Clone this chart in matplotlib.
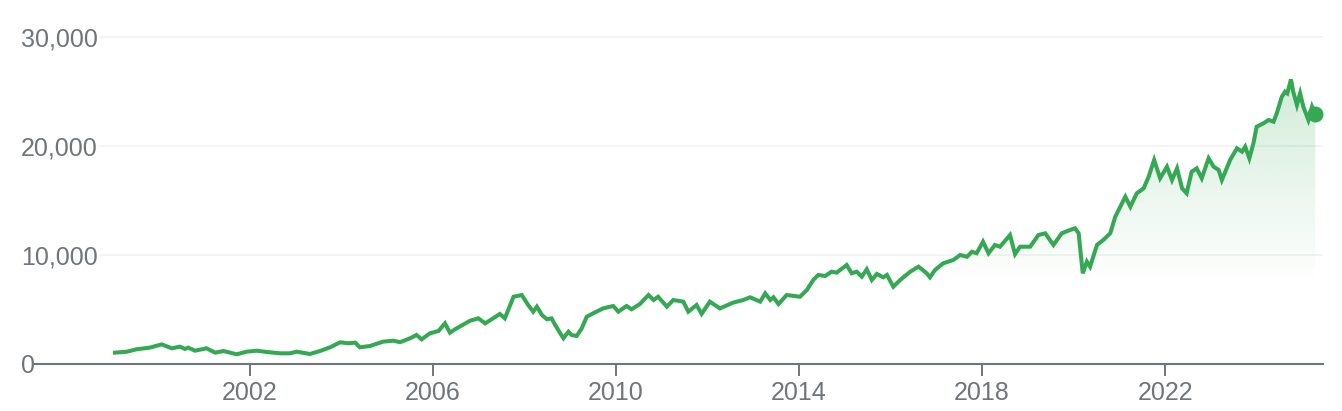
import numpy as np
import matplotlib
matplotlib.use("Agg")
import matplotlib.pyplot as plt
from matplotlib.patches import Polygon

# -----------------------------------
# Data (decimal years)
# -----------------------------------

years = [
    1999.05, 1999.31, 1999.52, 1999.81, 2000.07, 2000.29, 2000.47, 2000.58,
    2000.65, 2000.80, 2001.05, 2001.24, 2001.42, 2001.71, 2001.93, 2002.15,
    2002.37, 2002.66, 2002.87, 2003.02, 2003.31, 2003.53, 2003.75, 2003.97,
    2004.15, 2004.30, 2004.40, 2004.62, 2004.91, 2005.13, 2005.28, 2005.50,
    2005.64, 2005.75, 2005.93, 2006.12, 2006.26, 2006.37, 2006.48, 2006.81,
    2006.99, 2007.14, 2007.28, 2007.46, 2007.57, 2007.76, 2007.94, 2008.08,
    2008.19, 2008.27, 2008.38, 2008.49, 2008.59, 2008.67, 2008.78, 2008.85,
    2008.96, 2009.03, 2009.14, 2009.25, 2009.36, 2009.50, 2009.72, 2009.94,
    2010.05, 2010.23, 2010.34, 2010.52, 2010.71, 2010.82, 2010.92, 2011.11,
    2011.25, 2011.47, 2011.58, 2011.76, 2011.87, 2012.05, 2012.27, 2012.56,
    2012.78, 2012.93, 2013.15, 2013.26, 2013.37, 2013.44, 2013.55, 2013.73,
    2014.02, 2014.17, 2014.31, 2014.42, 2014.57, 2014.71, 2014.82, 2015.04,
    2015.15, 2015.26, 2015.37, 2015.48, 2015.59, 2015.70, 2015.84, 2015.92,
    2016.06, 2016.21, 2016.43, 2016.61, 2016.79, 2016.86, 2016.97, 2017.15,
    2017.37, 2017.52, 2017.67, 2017.78, 2017.88, 2018.02, 2018.14, 2018.28,
    2018.39, 2018.61, 2018.72, 2018.83, 2019.05, 2019.23, 2019.38, 2019.56,
    2019.74, 2019.92, 2020.03, 2020.11, 2020.20, 2020.29, 2020.36, 2020.51,
    2020.65, 2020.80, 2020.91, 2021.02, 2021.13, 2021.24, 2021.38, 2021.53,
    2021.64, 2021.76, 2021.89, 2022.04, 2022.15, 2022.26, 2022.37, 2022.47,
    2022.58, 2022.69, 2022.80, 2022.95, 2023.06, 2023.17, 2023.24, 2023.42,
    2023.57, 2023.68, 2023.75, 2023.84, 2023.93, 2024.00, 2024.15, 2024.26,
    2024.37, 2024.44, 2024.55, 2024.62, 2024.67, 2024.75, 2024.80, 2024.88,
    2024.95, 2025.02, 2025.13, 2025.21, 2025.28,
]

values = [
    1040, 1130, 1350, 1500, 1800, 1440, 1590, 1380,
    1500, 1220, 1440, 1040, 1190, 890, 1130, 1220,
    1100, 980, 980, 1130, 920, 1190, 1530, 1990,
    1900, 1960, 1530, 1650, 2050, 2140, 2000, 2360,
    2660, 2260, 2810, 3030, 3730, 2870, 3180, 3970,
    4190, 3730, 4100, 4590, 4190, 6170, 6330, 5410,
    4800, 5260, 4500, 4100, 4190, 3580, 2820, 2360,
    2960, 2660, 2570, 3270, 4340, 4650, 5110, 5320,
    4800, 5320, 5020, 5500, 6330, 5870, 6170, 5260,
    5870, 5720, 4800, 5410, 4600, 5720, 5100, 5630,
    5870, 6120, 5720, 6480, 5870, 6120, 5500, 6330,
    6170, 6790, 7710, 8170, 8070, 8470, 8380, 9080,
    8320, 8470, 8010, 8690, 7710, 8260, 7950, 8170,
    7090, 7710, 8470, 8930, 8320, 7950, 8620, 9240,
    9540, 10000, 9840, 10300, 10160, 11220, 10160, 10920,
    10760, 11830, 10080, 10760, 10760, 11830, 11990, 10920,
    11990, 12290, 12450, 11990, 8320, 9390, 8930, 10920,
    11380, 11990, 13510, 14430, 15350, 14430, 15660, 16120,
    17180, 18720, 17040, 18100, 16880, 17950, 16120, 15660,
    17640, 17950, 17040, 18870, 18100, 17800, 16880, 18720,
    19790, 19480, 19940, 18870, 20250, 21770, 22080, 22390,
    22230, 23000, 24520, 24980, 24830, 26110, 24980, 23760,
    24830, 23610, 22390, 23610, 22940,
]

ytick_vals = [0, 10000, 20000, 30000]
ytick_labels = ["0", "10,000", "20,000", "30,000"]
xtick_vals = [2002, 2006, 2010, 2014, 2018, 2022]
xtick_labels = ["2002", "2006", "2010", "2014", "2018", "2022"]

# -----------------------------------
# Style
# -----------------------------------

plt.rcParams["font.family"] = ["Liberation Sans", "DejaVu Sans"]
green = "#34a853"
gray = "#70757a"

fig = plt.figure(figsize=(13.42, 4.11), dpi=100)
ax = fig.add_axes([0.02534, 0.11436, 0.9605, 0.82214])

x0, x1 = 1997.28, 2025.45
ax.set_xlim(x0, x1)
ax.set_ylim(0, 31000)

# light gridlines (start right of the labels)
for v in ytick_vals[1:]:
    ax.plot([1998.72, x1], [v, v], color="#f1f3f4", lw=1.3, zorder=0)

# gradient fill under the line
grad = np.linspace(0, 1, 256).reshape(-1, 1)
alpha = np.clip((grad * 31000 - 7500) / (26000 - 7500), 0, 1) * 0.22
rgba = np.zeros((256, 1, 4))
rgba[..., :3] = matplotlib.colors.to_rgb(green)
rgba[..., 3] = alpha
img = ax.imshow(rgba, aspect="auto", origin="lower",
                extent=[x0, x1, 0, 31000], zorder=1, interpolation="bilinear")
poly = Polygon(np.column_stack([[years[0]] + years + [years[-1]],
                                [0] + values + [0]]),
               closed=True, transform=ax.transData)
img.set_clip_path(poly)

ax.plot(years, values, color=green, lw=2.9, zorder=3,
        solid_joinstyle="miter")
ax.plot(years[-1], values[-1], "o", color=green, markersize=10.5, zorder=4)

# axes
for s in ["top", "right", "left"]:
    ax.spines[s].set_visible(False)
ax.spines["bottom"].set_color(gray)
ax.spines["bottom"].set_linewidth(1.5)

ax.set_xticks(xtick_vals)
ax.set_xticklabels(xtick_labels)
ax.tick_params(axis="x", length=8.6, width=1.4, color=gray, pad=4,
               labelsize=18, labelcolor=gray)

ax.set_yticks(ytick_vals)
ax.set_yticklabels(ytick_labels, ha="left")
ax.tick_params(axis="y", length=0, pad=9.4, labelsize=18, labelcolor=gray)

fig.savefig("out.png", dpi=100)
